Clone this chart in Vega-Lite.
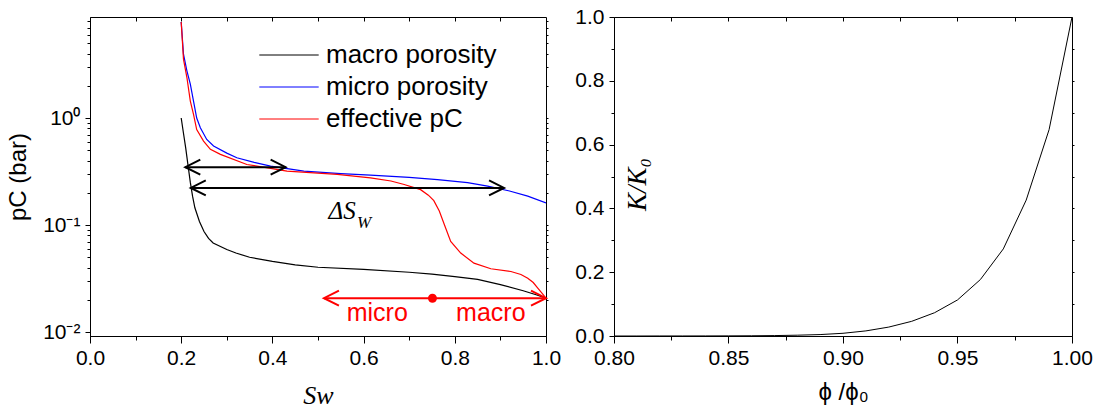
{
  "$schema": "https://vega.github.io/schema/vega-lite/v6.json",
  "padding": {"left": 6, "top": 5, "right": 2, "bottom": 5},
  "spacing": 12,
  "background": "white",
  "config": {
    "font": "Liberation Sans",
    "view": {"stroke": "black", "strokeWidth": 1},
    "axis": {
      "grid": false,
      "labelFont": "Liberation Sans",
      "labelFontSize": 21,
      "labelColor": "black",
      "tickColor": "black",
      "domainColor": "black",
      "titleColor": "black",
      "titleFontWeight": "normal",
      "labelFlush": false,
      "labelOverlap": false
    }
  },
  "datasets": {
    "curves": [
      {"series": "macro porosity", "sw": 0.2, "pc": 1.0},
      {"series": "macro porosity", "sw": 0.205, "pc": 0.72},
      {"series": "macro porosity", "sw": 0.21, "pc": 0.52},
      {"series": "macro porosity", "sw": 0.215, "pc": 0.36},
      {"series": "macro porosity", "sw": 0.22, "pc": 0.25},
      {"series": "macro porosity", "sw": 0.225, "pc": 0.185},
      {"series": "macro porosity", "sw": 0.23, "pc": 0.145},
      {"series": "macro porosity", "sw": 0.24, "pc": 0.108},
      {"series": "macro porosity", "sw": 0.25, "pc": 0.087},
      {"series": "macro porosity", "sw": 0.26, "pc": 0.075},
      {"series": "macro porosity", "sw": 0.27, "pc": 0.068},
      {"series": "macro porosity", "sw": 0.3, "pc": 0.059},
      {"series": "macro porosity", "sw": 0.32, "pc": 0.0547},
      {"series": "macro porosity", "sw": 0.35, "pc": 0.05},
      {"series": "macro porosity", "sw": 0.4, "pc": 0.0457},
      {"series": "macro porosity", "sw": 0.45, "pc": 0.0425},
      {"series": "macro porosity", "sw": 0.5, "pc": 0.0403},
      {"series": "macro porosity", "sw": 0.6, "pc": 0.0385},
      {"series": "macro porosity", "sw": 0.7, "pc": 0.0362},
      {"series": "macro porosity", "sw": 0.75, "pc": 0.0348},
      {"series": "macro porosity", "sw": 0.8, "pc": 0.033},
      {"series": "macro porosity", "sw": 0.85, "pc": 0.031},
      {"series": "macro porosity", "sw": 0.9, "pc": 0.0277},
      {"series": "macro porosity", "sw": 0.95, "pc": 0.0243},
      {"series": "macro porosity", "sw": 0.98, "pc": 0.0222},
      {"series": "macro porosity", "sw": 1.0, "pc": 0.0207},
      {"series": "micro porosity", "sw": 0.2, "pc": 7.9},
      {"series": "micro porosity", "sw": 0.205, "pc": 3.95},
      {"series": "micro porosity", "sw": 0.2125, "pc": 2.76},
      {"series": "micro porosity", "sw": 0.22, "pc": 2.07},
      {"series": "micro porosity", "sw": 0.227, "pc": 1.44},
      {"series": "micro porosity", "sw": 0.234, "pc": 1.0},
      {"series": "micro porosity", "sw": 0.242, "pc": 0.81},
      {"series": "micro porosity", "sw": 0.256, "pc": 0.63},
      {"series": "micro porosity", "sw": 0.271, "pc": 0.547},
      {"series": "micro porosity", "sw": 0.3, "pc": 0.47},
      {"series": "micro porosity", "sw": 0.322, "pc": 0.425},
      {"series": "micro porosity", "sw": 0.36, "pc": 0.385},
      {"series": "micro porosity", "sw": 0.396, "pc": 0.355},
      {"series": "micro porosity", "sw": 0.469, "pc": 0.319},
      {"series": "micro porosity", "sw": 0.55, "pc": 0.302},
      {"series": "micro porosity", "sw": 0.615, "pc": 0.292},
      {"series": "micro porosity", "sw": 0.7, "pc": 0.279},
      {"series": "micro porosity", "sw": 0.762, "pc": 0.266},
      {"series": "micro porosity", "sw": 0.828, "pc": 0.249},
      {"series": "micro porosity", "sw": 0.872, "pc": 0.231},
      {"series": "micro porosity", "sw": 0.92, "pc": 0.208},
      {"series": "micro porosity", "sw": 0.96, "pc": 0.186},
      {"series": "micro porosity", "sw": 1.0, "pc": 0.161},
      {"series": "effective pC", "sw": 0.2, "pc": 7.9},
      {"series": "effective pC", "sw": 0.205, "pc": 3.55},
      {"series": "effective pC", "sw": 0.2125, "pc": 2.39},
      {"series": "effective pC", "sw": 0.22, "pc": 1.44},
      {"series": "effective pC", "sw": 0.227, "pc": 1.08},
      {"series": "effective pC", "sw": 0.234, "pc": 0.78},
      {"series": "effective pC", "sw": 0.249, "pc": 0.609},
      {"series": "effective pC", "sw": 0.264, "pc": 0.51},
      {"series": "effective pC", "sw": 0.286, "pc": 0.457},
      {"series": "effective pC", "sw": 0.344, "pc": 0.368},
      {"series": "effective pC", "sw": 0.432, "pc": 0.319},
      {"series": "effective pC", "sw": 0.542, "pc": 0.297},
      {"series": "effective pC", "sw": 0.615, "pc": 0.276},
      {"series": "effective pC", "sw": 0.66, "pc": 0.258},
      {"series": "effective pC", "sw": 0.689, "pc": 0.239},
      {"series": "effective pC", "sw": 0.725, "pc": 0.214},
      {"series": "effective pC", "sw": 0.742, "pc": 0.19},
      {"series": "effective pC", "sw": 0.754, "pc": 0.169},
      {"series": "effective pC", "sw": 0.766, "pc": 0.135},
      {"series": "effective pC", "sw": 0.777, "pc": 0.101},
      {"series": "effective pC", "sw": 0.791, "pc": 0.0703},
      {"series": "effective pC", "sw": 0.813, "pc": 0.0547},
      {"series": "effective pC", "sw": 0.842, "pc": 0.044},
      {"series": "effective pC", "sw": 0.879, "pc": 0.039},
      {"series": "effective pC", "sw": 0.923, "pc": 0.0368},
      {"series": "effective pC", "sw": 0.945, "pc": 0.0345},
      {"series": "effective pC", "sw": 0.96, "pc": 0.0318},
      {"series": "effective pC", "sw": 0.972, "pc": 0.029},
      {"series": "effective pC", "sw": 0.982, "pc": 0.0257},
      {"series": "effective pC", "sw": 0.992, "pc": 0.0228},
      {"series": "effective pC", "sw": 1.0, "pc": 0.0207}
    ],
    "arrows": [
      {"arrow": "top", "end": "left", "sw": 0.209, "pc": 0.347},
      {"arrow": "top", "end": "right", "sw": 0.429, "pc": 0.347},
      {"arrow": "delta", "end": "left", "sw": 0.221, "pc": 0.222},
      {"arrow": "delta", "end": "right", "sw": 0.908, "pc": 0.222},
      {"arrow": "split", "end": "left", "sw": 0.513, "pc": 0.0207},
      {"arrow": "split", "end": "right", "sw": 1.0, "pc": 0.0207}
    ],
    "dot": [{"sw": 0.751, "pc": 0.0207}],
    "redText": [
      {"text": "micro", "sw": 0.63, "pc": 0.0152},
      {"text": "macro", "sw": 0.879, "pc": 0.0152}
    ],
    "delta": [{"text": "ΔS", "sw": 0.553, "pc": 0.134}],
    "deltaSub": [{"text": "W", "sw": 0.601, "pc": 0.1044}],
    "perm": [
      {"phi": 0.8, "k": 0.0},
      {"phi": 0.81, "k": 0.0},
      {"phi": 0.82, "k": 0.0001},
      {"phi": 0.83, "k": 0.0001},
      {"phi": 0.84, "k": 0.0002},
      {"phi": 0.85, "k": 0.0004},
      {"phi": 0.86, "k": 0.0007},
      {"phi": 0.87, "k": 0.0013},
      {"phi": 0.88, "k": 0.0025},
      {"phi": 0.89, "k": 0.0045},
      {"phi": 0.9, "k": 0.0085},
      {"phi": 0.91, "k": 0.016},
      {"phi": 0.92, "k": 0.028},
      {"phi": 0.93, "k": 0.046},
      {"phi": 0.94, "k": 0.073},
      {"phi": 0.95, "k": 0.113},
      {"phi": 0.96, "k": 0.177},
      {"phi": 0.97, "k": 0.273},
      {"phi": 0.98, "k": 0.426},
      {"phi": 0.99, "k": 0.647},
      {"phi": 1.0, "k": 1.0}
    ]
  },
  "hconcat": [
    {
      "width": 456,
      "height": 319,
      "resolve": {"axis": {"x": "independent", "y": "independent"}},
      "layer": [
        {
          "data": {"name": "curves"},
          "mark": {"type": "line", "strokeWidth": 1.2, "clip": true},
          "encoding": {
            "x": {"field": "sw", "type": "quantitative",
              "scale": {"domain": [0, 1], "nice": false, "zero": false},
              "axis": {"orient": "bottom", "values": [0, 0.2, 0.4, 0.6, 0.8, 1.0], "format": ".1f", "tickSize": 7, "labelPadding": 4,
                "title": "Sw", "titleFont": "Liberation Serif", "titleFontStyle": "italic", "titleFontSize": 26, "titlePadding": 14}},
            "y": {"field": "pc", "type": "quantitative",
              "scale": {"type": "log", "domain": [0.00918, 8.79], "nice": false},
              "axis": {"orient": "left", "values": [0.01, 0.1, 1], "tickSize": 5, "labelPadding": 5,
                "labelExpr": "datum.value == 1 ? '10⁰' : (datum.value > 0.05 ? '10⁻¹' : '10⁻²')",
                "title": "pC (bar)", "titleFontSize": 24, "titlePadding": 12}},
            "color": {"field": "series", "type": "nominal",
              "scale": {"domain": ["macro porosity", "micro porosity", "effective pC"], "range": ["#000000", "#0000ff", "#ff0000"]},
              "legend": {"orient": "none", "legendX": 182, "legendY": 21, "title": null,
                "symbolType": "M -1.8 0 L 1.8 0", "symbolSize": 1089, "symbolStrokeWidth": 1,
                "labelFontSize": 26, "labelFont": "Liberation Sans", "labelColor": "black", "labelOffset": 20,
                "rowPadding": 2, "padding": 0, "labelLimit": 400}},
            "order": {"field": "sw", "type": "quantitative"}
          }
        },
        {
          "data": {"name": "curves"},
          "mark": {"type": "point", "opacity": 0},
          "encoding": {
            "x": {"field": "sw", "type": "quantitative",
              "axis": {"orient": "bottom", "values": [0.1, 0.3, 0.5, 0.7, 0.9], "tickSize": 4, "labels": false, "domain": false, "title": null}},
            "y": {"field": "pc", "type": "quantitative",
              "axis": {"orient": "left", "values": [0.02, 0.03, 0.04, 0.05, 0.06, 0.07, 0.08, 0.09, 0.2, 0.3, 0.4, 0.5, 0.6, 0.7, 0.8, 0.9, 2, 3, 4, 5, 6, 7, 8], "tickSize": 3, "labels": false, "domain": false, "title": null}}
          }
        },
        {
          "data": {"name": "curves"},
          "mark": {"type": "point", "opacity": 0},
          "encoding": {
            "x": {"field": "sw", "type": "quantitative",
              "axis": {"orient": "top", "values": [0.1, 0.2, 0.3, 0.4, 0.5, 0.6, 0.7, 0.8, 0.9], "tickSize": -4, "labels": false, "domain": false, "title": null}},
            "y": {"field": "pc", "type": "quantitative",
              "axis": {"orient": "right", "values": [0.02, 0.03, 0.04, 0.05, 0.06, 0.07, 0.08, 0.09, 0.1, 0.2, 0.3, 0.4, 0.5, 0.6, 0.7, 0.8, 0.9, 1, 2, 3, 4, 5, 6, 7, 8], "tickSize": 2, "labels": false, "domain": false, "title": null}}
          }
        },
        {
          "data": {"name": "arrows"},
          "transform": [{"filter": "datum.arrow != 'split'"}],
          "mark": {"type": "line", "color": "black", "strokeWidth": 2},
          "encoding": {
            "x": {"field": "sw", "type": "quantitative", "axis": null},
            "y": {"field": "pc", "type": "quantitative", "axis": null},
            "detail": {"field": "arrow"}
          }
        },
        {
          "data": {"name": "arrows"},
          "transform": [{"filter": "datum.arrow != 'split' && datum.end == 'left'"}],
          "mark": {"type": "point", "shape": "M 1 -0.5 L 0 0 L 1 0.5", "filled": false, "size": 900, "strokeWidth": 2, "color": "black", "opacity": 1},
          "encoding": {
            "x": {"field": "sw", "type": "quantitative", "axis": null},
            "y": {"field": "pc", "type": "quantitative", "axis": null}
          }
        },
        {
          "data": {"name": "arrows"},
          "transform": [{"filter": "datum.arrow != 'split' && datum.end == 'right'"}],
          "mark": {"type": "point", "shape": "M -1 -0.5 L 0 0 L -1 0.5", "filled": false, "size": 900, "strokeWidth": 2, "color": "black", "opacity": 1},
          "encoding": {
            "x": {"field": "sw", "type": "quantitative", "axis": null},
            "y": {"field": "pc", "type": "quantitative", "axis": null}
          }
        },
        {
          "data": {"name": "arrows"},
          "transform": [{"filter": "datum.arrow == 'split'"}],
          "mark": {"type": "line", "color": "#ff0000", "strokeWidth": 2},
          "encoding": {
            "x": {"field": "sw", "type": "quantitative", "axis": null},
            "y": {"field": "pc", "type": "quantitative", "axis": null}
          }
        },
        {
          "data": {"name": "arrows"},
          "transform": [{"filter": "datum.arrow == 'split' && datum.end == 'left'"}],
          "mark": {"type": "point", "shape": "M 1 -0.5 L 0 0 L 1 0.5", "filled": false, "size": 900, "strokeWidth": 2, "color": "#ff0000", "opacity": 1},
          "encoding": {
            "x": {"field": "sw", "type": "quantitative", "axis": null},
            "y": {"field": "pc", "type": "quantitative", "axis": null}
          }
        },
        {
          "data": {"name": "arrows"},
          "transform": [{"filter": "datum.arrow == 'split' && datum.end == 'right'"}],
          "mark": {"type": "point", "shape": "M -1 -0.5 L 0 0 L -1 0.5", "filled": false, "size": 900, "strokeWidth": 2, "color": "#ff0000", "opacity": 1},
          "encoding": {
            "x": {"field": "sw", "type": "quantitative", "axis": null},
            "y": {"field": "pc", "type": "quantitative", "axis": null}
          }
        },
        {
          "data": {"name": "dot"},
          "mark": {"type": "point", "shape": "circle", "filled": true, "size": 80, "color": "#ff0000", "opacity": 1},
          "encoding": {
            "x": {"field": "sw", "type": "quantitative", "axis": null},
            "y": {"field": "pc", "type": "quantitative", "axis": null}
          }
        },
        {
          "data": {"name": "redText"},
          "mark": {"type": "text", "color": "#ff0000", "font": "Liberation Sans", "fontSize": 25, "align": "center", "baseline": "middle"},
          "encoding": {
            "x": {"field": "sw", "type": "quantitative", "axis": null},
            "y": {"field": "pc", "type": "quantitative", "axis": null},
            "text": {"field": "text"}
          }
        },
        {
          "data": {"name": "delta"},
          "mark": {"type": "text", "color": "black", "font": "Liberation Serif", "fontStyle": "italic", "fontSize": 25, "align": "center", "baseline": "middle"},
          "encoding": {
            "x": {"field": "sw", "type": "quantitative", "axis": null},
            "y": {"field": "pc", "type": "quantitative", "axis": null},
            "text": {"field": "text"}
          }
        },
        {
          "data": {"name": "deltaSub"},
          "mark": {"type": "text", "color": "black", "font": "Liberation Serif", "fontStyle": "italic", "fontSize": 17, "align": "center", "baseline": "middle"},
          "encoding": {
            "x": {"field": "sw", "type": "quantitative", "axis": null},
            "y": {"field": "pc", "type": "quantitative", "axis": null},
            "text": {"field": "text"}
          }
        }
      ]
    },
    {
      "width": 458,
      "height": 319,
      "resolve": {"axis": {"x": "independent", "y": "independent"}},
      "layer": [
        {
          "data": {"name": "perm"},
          "mark": {"type": "line", "color": "black", "strokeWidth": 1},
          "encoding": {
            "x": {"field": "phi", "type": "quantitative",
              "scale": {"domain": [0.8, 1.0], "nice": false, "zero": false},
              "axis": {"orient": "bottom", "values": [0.8, 0.85, 0.9, 0.95, 1.0], "format": ".2f", "tickSize": 7, "labelPadding": 4,
                "title": "ϕ /ϕ₀", "titleFontSize": 24, "titlePadding": 12}},
            "y": {"field": "k", "type": "quantitative",
              "scale": {"domain": [0, 1], "nice": false},
              "axis": {"orient": "left", "values": [0, 0.2, 0.4, 0.6, 0.8, 1.0], "format": ".1f", "tickSize": 5, "labelPadding": 5,
                "title": "K/K₀", "titleFont": "Liberation Serif", "titleFontStyle": "italic", "titleFontSize": 27,
                "titleX": 31, "titleY": 167, "titleBaseline": "alphabetic", "titleAngle": 270}}
          }
        },
        {
          "data": {"name": "perm"},
          "mark": {"type": "point", "opacity": 0},
          "encoding": {
            "x": {"field": "phi", "type": "quantitative",
              "axis": {"orient": "bottom", "values": [0.825, 0.875, 0.925, 0.975], "tickSize": 4, "labels": false, "domain": false, "title": null}},
            "y": {"field": "k", "type": "quantitative",
              "axis": {"orient": "left", "values": [0.1, 0.3, 0.5, 0.7, 0.9], "tickSize": 3, "labels": false, "domain": false, "title": null}}
          }
        },
        {
          "data": {"name": "perm"},
          "mark": {"type": "point", "opacity": 0},
          "encoding": {
            "x": {"field": "phi", "type": "quantitative",
              "axis": {"orient": "top", "values": [0.825, 0.85, 0.875, 0.9, 0.925, 0.95, 0.975], "tickSize": -4, "labels": false, "domain": false, "title": null}},
            "y": {"field": "k", "type": "quantitative",
              "axis": {"orient": "right", "values": [0.1, 0.2, 0.3, 0.4, 0.5, 0.6, 0.7, 0.8, 0.9], "tickSize": 2, "labels": false, "domain": false, "title": null}}
          }
        }
      ]
    }
  ]
}
